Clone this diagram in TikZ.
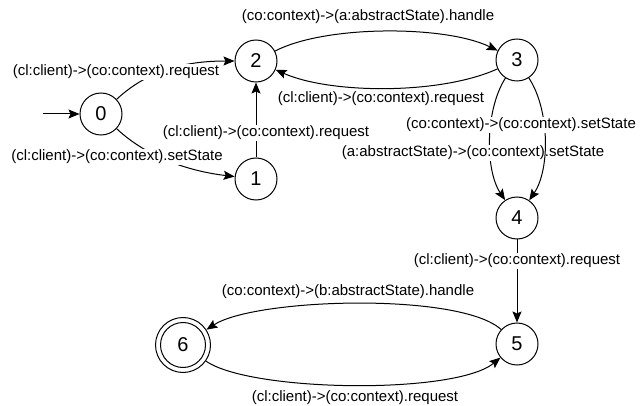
\documentclass[tikz,border=0pt]{standalone}
\usepackage{fontspec}
\setmainfont{Liberation Sans}
\usetikzlibrary{arrows.meta}
\begin{document}
\begin{tikzpicture}[x=1pt,y=-1pt,
  state/.style={circle,draw,line width=1pt,minimum size=42pt,inner sep=0pt,
    font=\fontsize{20pt}{24pt}\selectfont},
  final/.style={state,minimum size=55pt},
  edge/.style={line width=1pt,-{Stealth[length=11pt,width=9pt,inset=2pt]}},
  lbl/.style={fill=white,inner sep=1pt,font=\fontsize{15pt}{18pt}\selectfont}]
\useasboundingbox (0,0) rectangle (640,406);

% states
\node[state] (s0) at (101,114) {0};
\node[state] (s1) at (256,179) {1};
\node[state] (s2) at (256,61) {2};
\node[state] (s3) at (517,60) {3};
\node[state] (s4) at (517,218) {4};
\node[state] (s5) at (517,344) {5};
\node[final] (s6) at (183,345) {6};
\draw[line width=1pt] (s6.center) circle[radius=22.5];

% initial arrow
\coordinate (init) at (43,114);
\draw[edge] (init) -- (s0);

% 0 -> 2
\draw[edge] (s0) .. controls (150,68) and (190,61) .. (s2);
\node[lbl] (l02) at (116,72) {(cl:client)->(co:context).request};
% 0 -> 1
\draw[edge] (s0) .. controls (150,160) and (195,172) .. (s1);
\node[lbl] (l01) at (117,157) {(cl:client)->(co:context).setState};
% 1 -> 2
\draw[edge] (s1) -- (s2);
\node[lbl] (l12) at (266,133) {(cl:client)->(co:context).request};
% 2 -> 3
\draw[edge] (s2) .. controls (325,25) and (445,25) .. (s3);
\node[lbl] (l23) at (368,17) {(co:context)->(a:abstractState).handle};
% 3 -> 2
\draw[edge] (s3) .. controls (440,95) and (330,94) .. (s2);
\node[lbl] (l32) at (381,99) {(cl:client)->(co:context).request};
% 3 -> 4, left
\draw[edge] (s3) .. controls (485,110) and (485,170) .. (s4);
\node[lbl] (l34a) at (473,153) {(a:abstractState)->(co:context).setState};
% 3 -> 4, right
\draw[edge] (s3) .. controls (550,110) and (550,170) .. (s4);
\node[lbl] (l34b) at (521,125) {(co:context)->(co:context).setState};
% 4 -> 5
\draw[edge] (s4) -- (s5);
\node[lbl] (l45) at (517,261) {(cl:client)->(co:context).request};
% 5 -> 6
\draw[edge] (s5) .. controls (460,292) and (255,298) .. (s6);
\node[lbl] (l56) at (348,292) {(co:context)->(b:abstractState).handle};
% 6 -> 5
\draw[edge] (s6) .. controls (250,392) and (455,395) .. (s5);
\node[lbl] (l65) at (355,398) {(cl:client)->(co:context).request};
\end{tikzpicture}
\end{document}
